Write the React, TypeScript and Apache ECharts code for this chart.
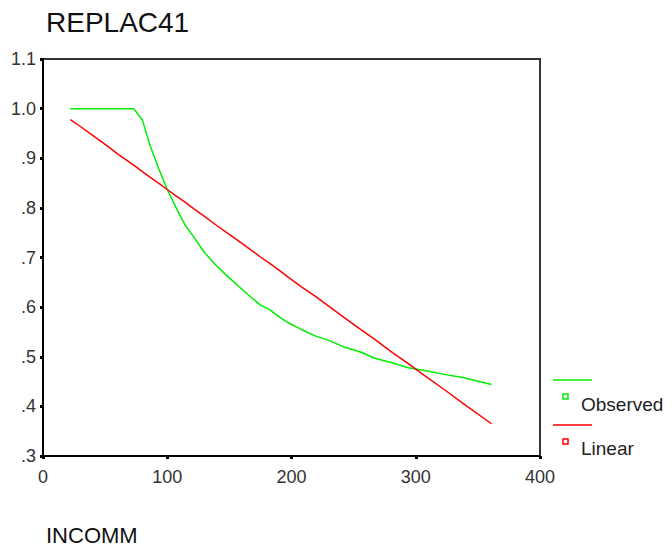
import React, { useEffect, useRef } from "react";
import * as echarts from "echarts";

const incomm = [22, 30, 40, 50, 60, 73, 80, 86, 93, 100, 107, 114, 122, 130, 139, 149, 157, 167, 175, 183, 187, 197, 208, 219, 231, 243, 255, 267, 281, 294, 306, 324, 338, 361];
const observed = [1.0, 1.0, 1.0, 1.0, 1.0, 1.0, 0.977, 0.927, 0.88, 0.837, 0.801, 0.767, 0.739, 0.71, 0.685, 0.661, 0.643, 0.621, 0.604, 0.594, 0.586, 0.569, 0.555, 0.542, 0.532, 0.519, 0.51, 0.497, 0.488, 0.478, 0.473, 0.464, 0.458, 0.444];
const linear = [0.978, 0.964, 0.946, 0.928, 0.909, 0.886, 0.873, 0.862, 0.85, 0.837, 0.824, 0.812, 0.797, 0.783, 0.766, 0.748, 0.734, 0.716, 0.701, 0.687, 0.68, 0.661, 0.641, 0.622, 0.6, 0.578, 0.556, 0.535, 0.509, 0.486, 0.464, 0.432, 0.406, 0.365];
const seriesNames = ["Observed", "Linear"];
const titleText = "REPLAC41";
const xName = "INCOMM";

const FONT = "'Liberation Sans', Arial, sans-serif";

export default function App() {
  const ref = useRef<HTMLDivElement>(null);
  useEffect(() => {
    if (!ref.current) return;
    const chart = echarts.init(ref.current, null, { renderer: "svg" });
    const pair = (ys: number[]) => incomm.map((x, i) => [x, ys[i]]);
    chart.setOption({
      animation: false,
      backgroundColor: "#ffffff",
      grid: { left: 43, top: 59, width: 497, height: 397, show: true, borderColor: "#333", borderWidth: 2, backgroundColor: "transparent" },
      xAxis: {
        type: "value", min: 0, max: 400, interval: 100,
        axisLine: { show: true, lineStyle: { color: "#000", width: 2 } },
        axisTick: { show: true, length: 3, inside: false, lineStyle: { color: "#000", width: 3 } },
        axisLabel: { color: "#333", fontSize: 18, fontFamily: FONT, margin: 12 },
        splitLine: { show: false },
      },
      yAxis: {
        type: "value", min: 0.3, max: 1.1, interval: 0.1,
        axisLine: { show: true, lineStyle: { color: "#000", width: 2 } },
        axisTick: { show: true, length: 3, inside: false, lineStyle: { color: "#000", width: 3 } },
        axisLabel: {
          color: "#333", fontSize: 18, fontFamily: FONT, margin: 7,
          formatter: (v: number) => (v >= 0.999 ? v.toFixed(1) : "." + Math.round(v * 10)),
        },
        splitLine: { show: false },
      },
      series: [
        { name: seriesNames[0], type: "line", data: pair(observed), showSymbol: false, lineStyle: { color: "#00ee00", width: 1.5 }, itemStyle: { color: "#00ee00" } },
        { name: seriesNames[1], type: "line", data: pair(linear), showSymbol: false, lineStyle: { color: "#ff0000", width: 1.5 }, itemStyle: { color: "#ff0000" } },
      ],
      graphic: [
        { type: "text", left: 46, top: 8, style: { text: titleText, fontSize: 28, fontFamily: FONT, fill: "#111" } },
        { type: "text", left: 46, top: 524, style: { text: xName, fontSize: 22, fontFamily: FONT, fill: "#111" } },
        { type: "line", shape: { x1: 553, y1: 380, x2: 592, y2: 380 }, style: { stroke: "#00ee00", lineWidth: 1.5 } },
        { type: "rect", shape: { x: 563, y: 394, width: 5, height: 5 }, style: { stroke: "#00ee00", fill: "none", lineWidth: 1.5 } },
        { type: "text", x: 581, y: 404, style: { text: seriesNames[0], fontSize: 19, fontFamily: FONT, fill: "#222", verticalAlign: "middle" } },
        { type: "line", shape: { x1: 553, y1: 425, x2: 592, y2: 425 }, style: { stroke: "#ff0000", lineWidth: 1.5 } },
        { type: "rect", shape: { x: 563, y: 439, width: 5, height: 5 }, style: { stroke: "#ff0000", fill: "none", lineWidth: 1.5 } },
        { type: "text", x: 581, y: 448, style: { text: seriesNames[1], fontSize: 19, fontFamily: FONT, fill: "#222", verticalAlign: "middle" } },
      ],
    });
    return () => chart.dispose();
  }, []);
  return <div ref={ref} style={{ position: "fixed", left: 0, top: 0, width: 672, height: 552 }} />;
}
